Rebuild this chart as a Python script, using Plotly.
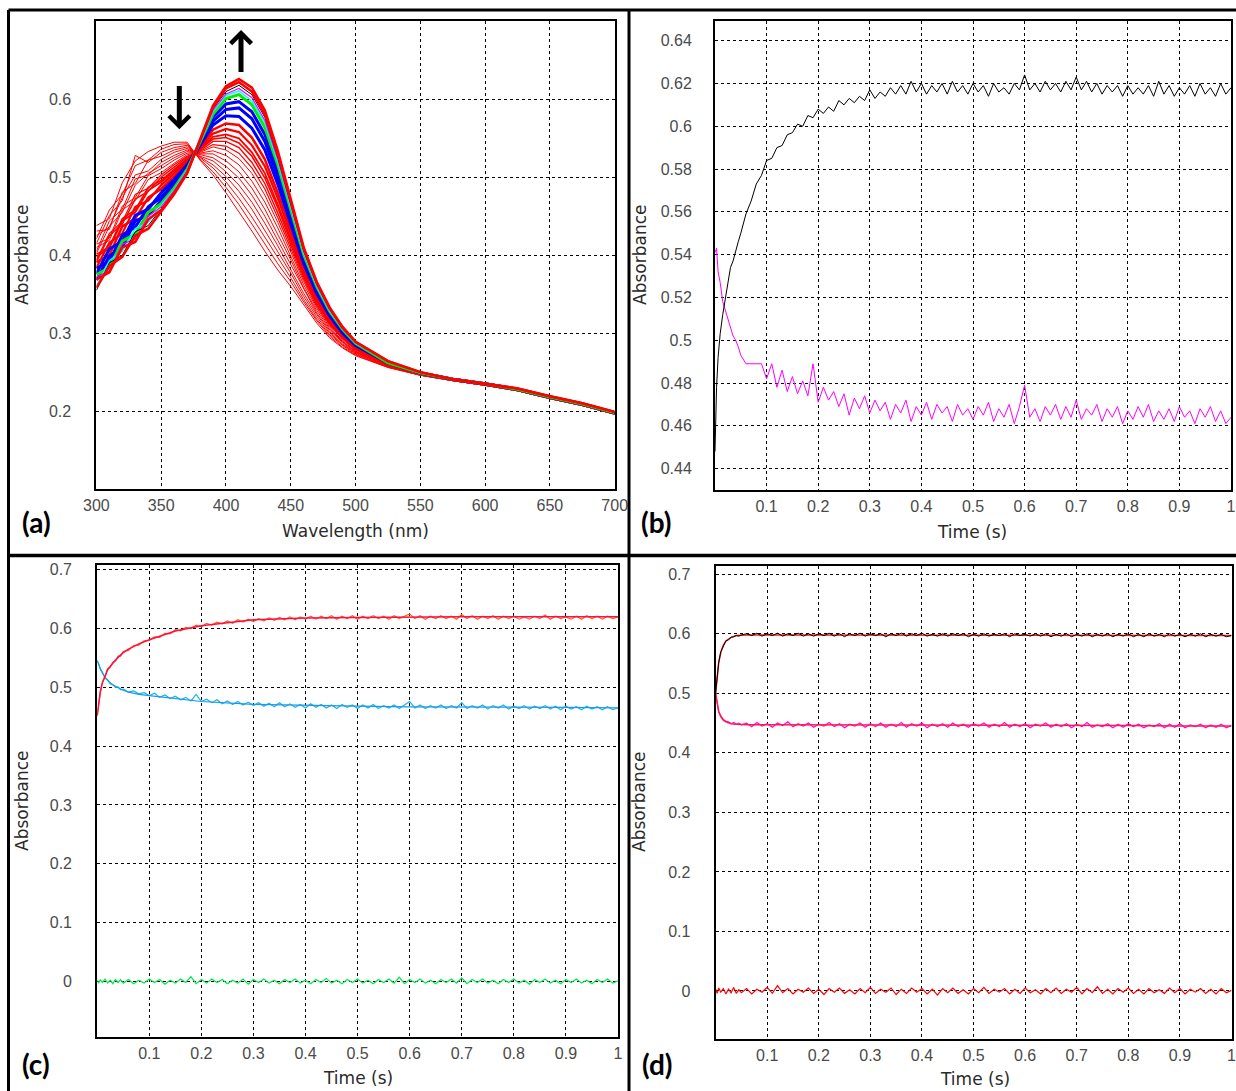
import plotly.graph_objects as go

W, H = 1236, 1091

# ---------------- Panel (a): spectra ----------------
wavelength = [300, 310, 320, 330, 340, 350, 360, 370, 380, 390, 400, 410, 420, 430, 440,
              450, 460, 470, 480, 490, 500, 525, 550, 575, 600, 625, 650, 675, 700]

spec_r00 = [0.438, 0.447, 0.493, 0.521, 0.533, 0.540, 0.545, 0.545, 0.522, 0.503, 0.480, 0.456, 0.431, 0.405, 0.381,
            0.360, 0.336, 0.313, 0.294, 0.281, 0.271, 0.256, 0.246, 0.239, 0.233, 0.226, 0.216, 0.207, 0.196]
spec_r05 = [0.421, 0.458, 0.478, 0.515, 0.522, 0.536, 0.542, 0.543, 0.523, 0.507, 0.487, 0.465, 0.440, 0.414, 0.389,
            0.366, 0.340, 0.316, 0.296, 0.282, 0.272, 0.256, 0.246, 0.239, 0.233, 0.226, 0.216, 0.207, 0.196]
spec_r10 = [0.415, 0.451, 0.470, 0.528, 0.519, 0.532, 0.538, 0.541, 0.525, 0.512, 0.494, 0.473, 0.449, 0.423, 0.396,
            0.371, 0.343, 0.318, 0.298, 0.284, 0.273, 0.257, 0.246, 0.239, 0.233, 0.226, 0.216, 0.207, 0.196]
spec_r15 = [0.431, 0.433, 0.481, 0.492, 0.522, 0.527, 0.535, 0.539, 0.526, 0.516, 0.501, 0.482, 0.459, 0.432, 0.404,
            0.377, 0.347, 0.321, 0.300, 0.285, 0.274, 0.257, 0.246, 0.239, 0.233, 0.226, 0.216, 0.207, 0.196]
spec_r20 = [0.425, 0.436, 0.474, 0.503, 0.508, 0.523, 0.532, 0.537, 0.527, 0.521, 0.507, 0.490, 0.468, 0.441, 0.412,
            0.382, 0.351, 0.324, 0.302, 0.286, 0.275, 0.258, 0.247, 0.239, 0.233, 0.226, 0.216, 0.207, 0.196]
spec_r25 = [0.405, 0.444, 0.459, 0.498, 0.503, 0.519, 0.528, 0.535, 0.529, 0.525, 0.514, 0.499, 0.477, 0.450, 0.419,
            0.388, 0.355, 0.326, 0.304, 0.288, 0.276, 0.258, 0.247, 0.239, 0.233, 0.226, 0.216, 0.207, 0.196]
spec_r30 = [0.402, 0.437, 0.455, 0.490, 0.505, 0.515, 0.525, 0.533, 0.530, 0.530, 0.521, 0.507, 0.486, 0.459, 0.427,
            0.394, 0.358, 0.329, 0.306, 0.289, 0.276, 0.258, 0.247, 0.240, 0.234, 0.227, 0.217, 0.208, 0.197]
spec_r35 = [0.414, 0.422, 0.463, 0.474, 0.502, 0.511, 0.522, 0.531, 0.531, 0.534, 0.528, 0.516, 0.495, 0.468, 0.435,
            0.399, 0.362, 0.332, 0.308, 0.290, 0.277, 0.259, 0.247, 0.240, 0.234, 0.227, 0.217, 0.208, 0.197]
spec_r40 = [0.410, 0.419, 0.458, 0.470, 0.497, 0.506, 0.518, 0.529, 0.532, 0.539, 0.535, 0.524, 0.505, 0.477, 0.442,
            0.405, 0.366, 0.334, 0.310, 0.292, 0.278, 0.259, 0.248, 0.240, 0.234, 0.227, 0.217, 0.208, 0.197]
spec_r44 = [0.394, 0.428, 0.443, 0.478, 0.486, 0.503, 0.516, 0.527, 0.533, 0.542, 0.540, 0.531, 0.512, 0.485, 0.448,
            0.409, 0.369, 0.336, 0.311, 0.293, 0.279, 0.259, 0.248, 0.240, 0.234, 0.227, 0.217, 0.208, 0.197]
spec_r48 = [0.391, 0.425, 0.440, 0.472, 0.482, 0.500, 0.513, 0.526, 0.534, 0.546, 0.546, 0.538, 0.519, 0.492, 0.454,
            0.414, 0.372, 0.338, 0.313, 0.294, 0.280, 0.260, 0.248, 0.240, 0.234, 0.227, 0.217, 0.208, 0.197]
spec_r52 = [0.401, 0.411, 0.447, 0.458, 0.487, 0.496, 0.510, 0.524, 0.536, 0.549, 0.551, 0.544, 0.527, 0.499, 0.461,
            0.418, 0.374, 0.341, 0.314, 0.295, 0.280, 0.260, 0.248, 0.240, 0.234, 0.227, 0.217, 0.208, 0.197]
spec_r55 = [0.398, 0.409, 0.444, 0.455, 0.483, 0.494, 0.508, 0.523, 0.536, 0.552, 0.555, 0.550, 0.532, 0.505, 0.465,
            0.422, 0.377, 0.342, 0.315, 0.296, 0.281, 0.260, 0.248, 0.240, 0.234, 0.227, 0.217, 0.208, 0.197]
spec_r60 = [0.384, 0.416, 0.428, 0.462, 0.470, 0.490, 0.505, 0.521, 0.538, 0.556, 0.562, 0.558, 0.541, 0.514, 0.473,
            0.427, 0.380, 0.345, 0.317, 0.297, 0.282, 0.261, 0.248, 0.240, 0.234, 0.227, 0.217, 0.208, 0.197]
spec_r65 = [0.391, 0.400, 0.437, 0.447, 0.474, 0.485, 0.501, 0.519, 0.539, 0.561, 0.569, 0.567, 0.551, 0.523, 0.480,
            0.433, 0.384, 0.347, 0.319, 0.299, 0.283, 0.261, 0.249, 0.240, 0.234, 0.227, 0.217, 0.208, 0.197]
spec_b1 = [0.376, 0.408, 0.418, 0.451, 0.459, 0.480, 0.497, 0.516, 0.541, 0.567, 0.579, 0.578, 0.563, 0.535, 0.491,
           0.441, 0.389, 0.351, 0.322, 0.300, 0.284, 0.262, 0.249, 0.241, 0.235, 0.228, 0.218, 0.209, 0.198]
spec_b2 = [0.383, 0.392, 0.426, 0.436, 0.462, 0.474, 0.493, 0.514, 0.542, 0.572, 0.587, 0.589, 0.575, 0.546, 0.500,
           0.447, 0.394, 0.354, 0.324, 0.302, 0.285, 0.262, 0.249, 0.241, 0.235, 0.228, 0.218, 0.209, 0.198]
spec_b3 = [0.368, 0.399, 0.410, 0.444, 0.451, 0.470, 0.489, 0.512, 0.544, 0.577, 0.594, 0.597, 0.584, 0.555, 0.508,
           0.453, 0.397, 0.357, 0.326, 0.303, 0.286, 0.262, 0.249, 0.241, 0.235, 0.228, 0.218, 0.209, 0.198]
spec_g1 = [0.375, 0.384, 0.418, 0.427, 0.455, 0.466, 0.486, 0.510, 0.545, 0.581, 0.601, 0.606, 0.593, 0.564, 0.516,
           0.459, 0.401, 0.360, 0.328, 0.305, 0.287, 0.262, 0.249, 0.241, 0.235, 0.228, 0.218, 0.209, 0.198]
spec_c1 = [0.360, 0.393, 0.405, 0.434, 0.442, 0.464, 0.484, 0.509, 0.546, 0.584, 0.605, 0.611, 0.598, 0.570, 0.520,
           0.462, 0.403, 0.361, 0.329, 0.306, 0.287, 0.264, 0.250, 0.241, 0.235, 0.229, 0.219, 0.210, 0.199]
spec_m1 = [0.372, 0.380, 0.414, 0.421, 0.450, 0.462, 0.483, 0.508, 0.546, 0.586, 0.607, 0.614, 0.602, 0.573, 0.523,
           0.464, 0.405, 0.362, 0.330, 0.306, 0.288, 0.264, 0.250, 0.241, 0.235, 0.229, 0.219, 0.210, 0.199]
spec_k1 = [0.355, 0.390, 0.400, 0.430, 0.438, 0.460, 0.481, 0.507, 0.547, 0.588, 0.610, 0.618, 0.606, 0.577, 0.526,
           0.466, 0.406, 0.363, 0.331, 0.307, 0.288, 0.264, 0.250, 0.241, 0.235, 0.229, 0.219, 0.210, 0.199]
spec_f1 = [0.369, 0.378, 0.410, 0.417, 0.446, 0.458, 0.480, 0.506, 0.547, 0.590, 0.614, 0.622, 0.610, 0.581, 0.530,
           0.469, 0.408, 0.365, 0.332, 0.307, 0.289, 0.264, 0.250, 0.241, 0.235, 0.229, 0.219, 0.210, 0.199]
spec_f2 = [0.358, 0.386, 0.398, 0.425, 0.434, 0.456, 0.478, 0.505, 0.548, 0.592, 0.617, 0.626, 0.615, 0.586, 0.534,
           0.472, 0.410, 0.366, 0.333, 0.308, 0.289, 0.264, 0.250, 0.241, 0.235, 0.229, 0.219, 0.210, 0.199]

wl_ticks = [300, 350, 400, 450, 500, 550, 600, 650, 700]
wl_tick_text = ["300", "350", "400", "450", "500", "550", "600", "650", "700"]
abs_ticks_a = [0.2, 0.3, 0.4, 0.5, 0.6]
abs_tick_text_a = ["0.2", "0.3", "0.4", "0.5", "0.6"]

# ---------------- Time traces ----------------
time_s = [0, 0.003, 0.006, 0.01, 0.015, 0.02, 0.025, 0.03, 0.035, 0.04, 0.045, 0.05,
          0.06, 0.07, 0.08, 0.09, 0.10, 0.11, 0.12, 0.13, 0.14, 0.15,
          0.16, 0.17, 0.18, 0.19, 0.20, 0.21, 0.22, 0.23, 0.24, 0.25,
          0.26, 0.27, 0.28, 0.29, 0.30, 0.31, 0.32, 0.33, 0.34, 0.35,
          0.36, 0.37, 0.38, 0.39, 0.40, 0.41, 0.42, 0.43, 0.44, 0.45,
          0.46, 0.47, 0.48, 0.49, 0.50, 0.51, 0.52, 0.53, 0.54, 0.55,
          0.56, 0.57, 0.58, 0.59, 0.60, 0.61, 0.62, 0.63, 0.64, 0.65,
          0.66, 0.67, 0.68, 0.69, 0.70, 0.71, 0.72, 0.73, 0.74, 0.75,
          0.76, 0.77, 0.78, 0.79, 0.80, 0.81, 0.82, 0.83, 0.84, 0.85,
          0.86, 0.87, 0.88, 0.89, 0.90, 0.91, 0.92, 0.93, 0.94, 0.95,
          0.96, 0.97, 0.98, 0.99, 1.00]

b_black = [0.448, 0.478, 0.492, 0.503, 0.512, 0.520, 0.527, 0.534, 0.537, 0.542, 0.546, 0.550,
           0.559, 0.565, 0.573, 0.577, 0.584, 0.585, 0.590, 0.591, 0.596, 0.597,
           0.601, 0.600, 0.605, 0.604, 0.608, 0.606, 0.609, 0.607, 0.612, 0.610,
           0.613, 0.611, 0.614, 0.612, 0.617, 0.613, 0.616, 0.614, 0.618, 0.615,
           0.619, 0.615, 0.621, 0.616, 0.620, 0.615, 0.619, 0.616, 0.620, 0.615,
           0.621, 0.616, 0.619, 0.615, 0.620, 0.616, 0.619, 0.614, 0.620, 0.616,
           0.618, 0.615, 0.620, 0.617, 0.624, 0.617, 0.620, 0.616, 0.621, 0.617,
           0.620, 0.616, 0.621, 0.617, 0.623, 0.617, 0.621, 0.616, 0.620, 0.615,
           0.619, 0.616, 0.619, 0.614, 0.619, 0.615, 0.618, 0.615, 0.619, 0.614,
           0.621, 0.615, 0.619, 0.614, 0.618, 0.615, 0.619, 0.614, 0.620, 0.615,
           0.618, 0.614, 0.620, 0.615, 0.618]
b_magenta = [0.541, 0.543, 0.532, 0.527, 0.518, 0.514, 0.509, 0.506, 0.502, 0.500, 0.497, 0.493,
             0.489, 0.489, 0.489, 0.489, 0.482, 0.489, 0.478, 0.486, 0.476, 0.483,
             0.475, 0.481, 0.474, 0.489, 0.471, 0.478, 0.472, 0.476, 0.469, 0.475,
             0.465, 0.473, 0.468, 0.474, 0.466, 0.472, 0.467, 0.471, 0.463, 0.470,
             0.466, 0.472, 0.462, 0.469, 0.465, 0.471, 0.463, 0.470, 0.466, 0.469,
             0.462, 0.470, 0.465, 0.468, 0.463, 0.469, 0.465, 0.471, 0.462, 0.468,
             0.464, 0.470, 0.461, 0.469, 0.479, 0.464, 0.468, 0.462, 0.469, 0.465,
             0.470, 0.463, 0.469, 0.464, 0.472, 0.463, 0.468, 0.465, 0.470, 0.462,
             0.468, 0.464, 0.469, 0.461, 0.467, 0.463, 0.469, 0.464, 0.470, 0.462,
             0.467, 0.463, 0.468, 0.462, 0.469, 0.464, 0.467, 0.461, 0.468, 0.464,
             0.469, 0.462, 0.467, 0.461, 0.464]

c_orange = [0.452, 0.477, 0.491, 0.509, 0.517, 0.532, 0.534, 0.543, 0.545, 0.553, 0.553, 0.561,
            0.563, 0.571, 0.572, 0.579, 0.580, 0.586, 0.585, 0.592, 0.591, 0.598,
            0.596, 0.602, 0.600, 0.606, 0.603, 0.609, 0.606, 0.611, 0.608, 0.613,
            0.609, 0.615, 0.611, 0.616, 0.612, 0.617, 0.613, 0.618, 0.614, 0.619,
            0.615, 0.620, 0.615, 0.620, 0.616, 0.621, 0.616, 0.621, 0.617, 0.622,
            0.616, 0.621, 0.617, 0.622, 0.616, 0.621, 0.617, 0.622, 0.617, 0.621,
            0.616, 0.622, 0.617, 0.621, 0.625, 0.617, 0.622, 0.616, 0.621, 0.617,
            0.622, 0.617, 0.621, 0.616, 0.624, 0.617, 0.622, 0.616, 0.621, 0.617,
            0.622, 0.616, 0.621, 0.617, 0.621, 0.616, 0.620, 0.616, 0.621, 0.617,
            0.623, 0.616, 0.621, 0.617, 0.620, 0.616, 0.621, 0.616, 0.622, 0.617,
            0.621, 0.616, 0.621, 0.617, 0.620]
c_blue = [0.546, 0.540, 0.530, 0.526, 0.516, 0.513, 0.506, 0.505, 0.500, 0.501, 0.496, 0.497,
          0.492, 0.494, 0.489, 0.491, 0.486, 0.490, 0.483, 0.487, 0.481, 0.485,
          0.479, 0.483, 0.477, 0.488, 0.476, 0.480, 0.474, 0.479, 0.472, 0.477,
          0.471, 0.476, 0.470, 0.475, 0.469, 0.474, 0.468, 0.473, 0.467, 0.474,
          0.467, 0.472, 0.466, 0.471, 0.465, 0.472, 0.466, 0.471, 0.465, 0.470,
          0.464, 0.471, 0.466, 0.470, 0.464, 0.470, 0.465, 0.471, 0.464, 0.469,
          0.465, 0.470, 0.464, 0.470, 0.476, 0.465, 0.470, 0.464, 0.469, 0.465,
          0.470, 0.464, 0.469, 0.465, 0.474, 0.464, 0.469, 0.465, 0.470, 0.463,
          0.469, 0.465, 0.470, 0.463, 0.468, 0.464, 0.469, 0.463, 0.468, 0.464,
          0.469, 0.463, 0.468, 0.462, 0.468, 0.463, 0.467, 0.462, 0.468, 0.463,
          0.467, 0.462, 0.467, 0.462, 0.465]
c_green = [0.002, -0.003, 0.003, -0.002, 0.004, -0.003, 0.002, -0.004, 0.003, -0.002, 0.003, -0.003,
           0.003, -0.004, 0.002, -0.003, 0.004, -0.002, 0.003, -0.005, 0.002, -0.003,
           0.004, -0.002, 0.008, -0.004, 0.003, -0.003, 0.004, -0.002, 0.003, -0.004,
           0.002, -0.003, 0.004, -0.005, 0.003, -0.002, 0.004, -0.003, 0.002, -0.004,
           0.003, -0.002, 0.004, -0.003, 0.002, -0.004, 0.003, -0.002, 0.005, -0.003,
           0.002, -0.004, 0.003, -0.002, 0.004, -0.003, 0.002, -0.004, 0.003, -0.002,
           0.004, -0.003, 0.007, -0.004, 0.003, -0.002, 0.004, -0.003, 0.002, -0.004,
           0.003, -0.002, 0.004, -0.003, 0.006, -0.004, 0.003, -0.002, 0.004, -0.003,
           0.002, -0.004, 0.003, -0.002, 0.004, -0.003, 0.002, -0.005, 0.003, -0.002,
           0.004, -0.003, 0.002, -0.004, 0.003, -0.002, 0.004, -0.003, 0.002, -0.004,
           0.003, -0.002, 0.004, -0.003, 0.001]

d_black = [0.500, 0.532, 0.552, 0.570, 0.580, 0.588, 0.590, 0.594, 0.595, 0.597, 0.596, 0.598,
           0.600, 0.597, 0.601, 0.596, 0.600, 0.597, 0.601, 0.596, 0.600, 0.597,
           0.601, 0.596, 0.600, 0.596, 0.600, 0.597, 0.601, 0.596, 0.600, 0.595,
           0.600, 0.597, 0.601, 0.596, 0.600, 0.597, 0.600, 0.595, 0.600, 0.597,
           0.601, 0.596, 0.600, 0.597, 0.601, 0.596, 0.599, 0.596, 0.600, 0.596,
           0.600, 0.597, 0.600, 0.595, 0.599, 0.596, 0.600, 0.596, 0.599, 0.597,
           0.600, 0.595, 0.600, 0.597, 0.599, 0.596, 0.600, 0.596, 0.600, 0.595,
           0.599, 0.596, 0.600, 0.595, 0.599, 0.596, 0.600, 0.595, 0.599, 0.596,
           0.600, 0.595, 0.599, 0.596, 0.600, 0.595, 0.599, 0.595, 0.600, 0.596,
           0.599, 0.595, 0.600, 0.596, 0.599, 0.595, 0.599, 0.596, 0.600, 0.595,
           0.599, 0.596, 0.599, 0.595, 0.597]
d_magenta = [0.500, 0.480, 0.468, 0.462, 0.456, 0.453, 0.452, 0.449, 0.451, 0.448, 0.450, 0.447,
             0.450, 0.444, 0.451, 0.445, 0.449, 0.443, 0.450, 0.446, 0.452, 0.444,
             0.449, 0.445, 0.450, 0.443, 0.448, 0.445, 0.451, 0.444, 0.449, 0.442,
             0.448, 0.445, 0.450, 0.443, 0.449, 0.444, 0.450, 0.443, 0.448, 0.444,
             0.451, 0.443, 0.449, 0.445, 0.450, 0.442, 0.448, 0.444, 0.449, 0.443,
             0.450, 0.444, 0.448, 0.443, 0.449, 0.445, 0.450, 0.443, 0.448, 0.444,
             0.451, 0.443, 0.448, 0.444, 0.449, 0.442, 0.448, 0.445, 0.450, 0.443,
             0.448, 0.444, 0.449, 0.442, 0.448, 0.444, 0.451, 0.443, 0.447, 0.444,
             0.449, 0.442, 0.448, 0.443, 0.449, 0.444, 0.448, 0.442, 0.447, 0.444,
             0.449, 0.442, 0.448, 0.443, 0.449, 0.442, 0.447, 0.444, 0.448, 0.442,
             0.447, 0.443, 0.448, 0.442, 0.446]
d_resid = [0.003, -0.004, 0.005, -0.002, 0.004, -0.005, 0.003, -0.003, 0.006, -0.004, 0.002, -0.003,
           0.004, -0.005, 0.003, -0.002, 0.006, -0.004, 0.009, -0.003, 0.004, -0.005,
           0.003, -0.002, 0.005, -0.004, 0.003, -0.006, 0.004, -0.002, 0.005, -0.004,
           0.002, -0.005, 0.004, -0.003, 0.006, -0.004, 0.003, -0.002, 0.005, -0.006,
           0.003, -0.004, 0.005, -0.002, 0.004, -0.005, 0.003, -0.007, 0.004, -0.003,
           0.005, -0.004, 0.002, -0.005, 0.004, -0.003, 0.006, -0.004, 0.003, -0.002,
           0.004, -0.005, 0.003, -0.004, 0.005, -0.003, 0.002, -0.005, 0.004, -0.003,
           0.005, -0.004, 0.003, -0.002, 0.006, -0.005, 0.004, -0.003, 0.007, -0.004,
           0.003, -0.005, 0.004, -0.002, 0.005, -0.004, 0.003, -0.005, 0.004, -0.003,
           0.002, -0.004, 0.005, -0.003, 0.004, -0.005, 0.003, -0.002, 0.004, -0.004,
           0.003, -0.005, 0.004, -0.003, 0.001]

fit_time = [0, 0.003, 0.006, 0.01, 0.015, 0.02, 0.03, 0.04, 0.05, 0.06, 0.08,
            0.1, 0.15, 0.2, 0.3, 0.4, 0.5, 0.6, 0.7, 0.8, 0.9, 1.0]
c_fit_red = [0.452, 0.475, 0.493, 0.508, 0.519, 0.530, 0.541, 0.551, 0.559, 0.565, 0.574,
             0.581, 0.596, 0.605, 0.615, 0.618, 0.619, 0.620, 0.620, 0.620, 0.620, 0.620]
c_fit_blue = [0.545, 0.538, 0.531, 0.524, 0.517, 0.512, 0.504, 0.499, 0.495, 0.492, 0.488,
              0.486, 0.481, 0.476, 0.471, 0.469, 0.468, 0.467, 0.467, 0.467, 0.466, 0.465]
d_fit_up = [0.500, 0.530, 0.551, 0.568, 0.581, 0.588, 0.594, 0.597, 0.598, 0.598, 0.598,
            0.598, 0.598, 0.598, 0.598, 0.598, 0.598, 0.598, 0.598, 0.598, 0.597, 0.597]
d_fit_down = [0.500, 0.482, 0.470, 0.461, 0.455, 0.452, 0.449, 0.448, 0.447, 0.447, 0.447,
              0.447, 0.447, 0.447, 0.447, 0.446, 0.446, 0.446, 0.446, 0.446, 0.445, 0.445]

time_ticks = [0.1, 0.2, 0.3, 0.4, 0.5, 0.6, 0.7, 0.8, 0.9, 1.0]
time_tick_text = ["0.1", "0.2", "0.3", "0.4", "0.5", "0.6", "0.7", "0.8", "0.9", "1"]
abs_ticks_b = [0.44, 0.46, 0.48, 0.50, 0.52, 0.54, 0.56, 0.58, 0.60, 0.62, 0.64]
abs_tick_text_b = ["0.44", "0.46", "0.48", "0.5", "0.52", "0.54", "0.56", "0.58", "0.6", "0.62", "0.64"]
abs_ticks_cd = [0, 0.1, 0.2, 0.3, 0.4, 0.5, 0.6, 0.7]
abs_tick_text_cd = ["0", "0.1", "0.2", "0.3", "0.4", "0.5", "0.6", "0.7"]

for arr in (b_black, b_magenta, c_orange, c_blue, c_green, d_black, d_magenta, d_resid):
    assert len(arr) == len(time_s), len(arr)

# ---------------- Figure ----------------
fig = go.Figure()

def px_x(p):
    return p / W

def px_y(p):
    return 1 - p / H

TICK_FONT = dict(family="Liberation Sans Narrow, Liberation Sans, Arial", size=16, color="#4a4a4a")
TITLE_FONT = dict(family="DejaVu Sans, Verdana, sans-serif", size=17, color="#2a2a2a")
LABEL_FONT = dict(family="Lato, Open Sans, sans-serif", size=28, color="#000000")

def axis_common(domain, rng, tickvals, ticktext, ticklen, anchor):
    return dict(domain=domain, range=rng, tickvals=tickvals, ticktext=ticktext, anchor=anchor,
                showline=True, mirror=True, linecolor="black", linewidth=2,
                showgrid=True, gridcolor="black", gridwidth=1, griddash="3px,3px",
                zeroline=False, ticks="outside", ticklen=ticklen, tickcolor="rgba(0,0,0,0)",
                tickfont=TICK_FONT, fixedrange=True, automargin=False, ticklabeloverflow="allow")

# panel (a)
spectra = [
    (spec_r00, "#ff0000", 1), (spec_r05, "#ff0000", 1), (spec_r10, "#ff0000", 1),
    (spec_r15, "#ff0000", 1), (spec_r20, "#ff0000", 1), (spec_r25, "#ff0000", 1),
    (spec_r30, "#ff0000", 1), (spec_r35, "#ff0000", 1), (spec_r40, "#ff0000", 1),
    (spec_r44, "#ff0000", 1.2), (spec_r48, "#ff0000", 1.4), (spec_r52, "#ff0000", 1.6),
    (spec_r55, "#ff0000", 1.8), (spec_r60, "#ff0000", 2.2), (spec_r65, "#ff0000", 2.5),
    (spec_b1, "#0000ff", 3), (spec_b2, "#0000ff", 3), (spec_b3, "#0000ff", 3),
    (spec_g1, "#00ee00", 3), (spec_c1, "#00ffff", 1.5), (spec_m1, "#ff00ff", 1.2),
    (spec_k1, "#000000", 1), (spec_f1, "#ff0000", 2.5), (spec_f2, "#ff0000", 2.5),
]
for vals, col, w in spectra:
    assert len(vals) == len(wavelength)
    fig.add_trace(go.Scatter(x=wavelength, y=vals, mode="lines", line=dict(color=col, width=w),
                             xaxis="x", yaxis="y", showlegend=False, hoverinfo="skip"))

# panel (b)
fig.add_trace(go.Scatter(x=time_s, y=b_magenta, mode="lines", line=dict(color="#ff00ff", width=1),
                         xaxis="x2", yaxis="y2", showlegend=False, hoverinfo="skip"))
fig.add_trace(go.Scatter(x=time_s, y=b_black, mode="lines", line=dict(color="#000000", width=1),
                         xaxis="x2", yaxis="y2", showlegend=False, hoverinfo="skip"))

# panel (c)
fig.add_trace(go.Scatter(x=time_s, y=c_green, mode="lines", line=dict(color="#00e64d", width=1.2),
                         xaxis="x3", yaxis="y3", showlegend=False, hoverinfo="skip"))
fig.add_trace(go.Scatter(x=time_s, y=c_blue, mode="lines", line=dict(color="#1ab2f0", width=1.2),
                         xaxis="x3", yaxis="y3", showlegend=False, hoverinfo="skip"))
fig.add_trace(go.Scatter(x=fit_time, y=c_fit_blue, mode="lines", line=dict(color="#1a9ae6", width=1.2),
                         xaxis="x3", yaxis="y3", showlegend=False, hoverinfo="skip"))
fig.add_trace(go.Scatter(x=time_s, y=c_orange, mode="lines", line=dict(color="#ff5a1f", width=1.2),
                         xaxis="x3", yaxis="y3", showlegend=False, hoverinfo="skip"))
fig.add_trace(go.Scatter(x=fit_time, y=c_fit_red, mode="lines", line=dict(color="#ff1040", width=1.5),
                         xaxis="x3", yaxis="y3", showlegend=False, hoverinfo="skip"))

# panel (d)
fig.add_trace(go.Scatter(x=time_s, y=d_resid, mode="lines", line=dict(color="#ff0000", width=1.2),
                         xaxis="x4", yaxis="y4", showlegend=False, hoverinfo="skip"))
fig.add_trace(go.Scatter(x=fit_time, y=d_fit_up, mode="lines", line=dict(color="#ff1a1a", width=1.5),
                         xaxis="x4", yaxis="y4", showlegend=False, hoverinfo="skip"))
fig.add_trace(go.Scatter(x=time_s, y=d_black, mode="lines", line=dict(color="#000000", width=1),
                         xaxis="x4", yaxis="y4", showlegend=False, hoverinfo="skip"))
fig.add_trace(go.Scatter(x=time_s, y=d_magenta, mode="lines", line=dict(color="#ff00ff", width=1.2),
                         xaxis="x4", yaxis="y4", showlegend=False, hoverinfo="skip"))
fig.add_trace(go.Scatter(x=fit_time, y=d_fit_down, mode="lines", line=dict(color="#ff1a4a", width=1.5),
                         xaxis="x4", yaxis="y4", showlegend=False, hoverinfo="skip"))

dom_a = ([px_x(96.4), px_x(614.7)], [px_y(489), px_y(21.4)])
dom_b = ([px_x(715), px_x(1231)], [px_y(490), px_y(21.4)])
dom_c = ([px_x(97.2), px_x(618)], [px_y(1037.2), px_y(564.5)])
dom_d = ([px_x(715.6), px_x(1231.5)], [px_y(1038.6), px_y(565.9)])

fig.update_layout(
    template="none",
    width=W, height=H, margin=dict(l=0, r=0, t=0, b=0, pad=0),
    paper_bgcolor="white", plot_bgcolor="white", showlegend=False,
    xaxis=axis_common(dom_a[0], [300, 700], wl_ticks, wl_tick_text, 1, "y"),
    yaxis=axis_common(dom_a[1], [0.1, 0.7], abs_ticks_a, abs_tick_text_a, 20, "x"),
    xaxis2=axis_common(dom_b[0], [0, 1], time_ticks, time_tick_text, 1, "y2"),
    yaxis2=axis_common(dom_b[1], [0.43, 0.649], abs_ticks_b, abs_tick_text_b, 18, "x2"),
    xaxis3=axis_common(dom_c[0], [0, 1], time_ticks, time_tick_text, 1, "y3"),
    yaxis3=axis_common(dom_c[1], [-0.095, 0.709], abs_ticks_cd, abs_tick_text_cd, 20, "x3"),
    xaxis4=axis_common(dom_d[0], [0, 1], time_ticks, time_tick_text, 1, "y4"),
    yaxis4=axis_common(dom_d[1], [-0.08, 0.714], abs_ticks_cd, abs_tick_text_cd, 20, "x4"),
)

annotations = []

def text_ann(txt, cx, cy, font, angle=0):
    annotations.append(dict(text=txt, x=px_x(cx), y=px_y(cy), xref="paper", yref="paper",
                            xanchor="center", yanchor="middle", showarrow=False,
                            font=font, textangle=angle))

# axis titles
text_ann("Absorbance", 22, 255, TITLE_FONT, -90)
text_ann("Wavelength (nm)", 355, 531, TITLE_FONT)
text_ann("Absorbance", 640, 255, TITLE_FONT, -90)
text_ann("Time (s)", 972, 532, TITLE_FONT)
text_ann("Absorbance", 22, 801, TITLE_FONT, -90)
text_ann("Time (s)", 358, 1078, TITLE_FONT)
text_ann("Absorbance", 639, 802, TITLE_FONT, -90)
text_ann("Time (s)", 975, 1079, TITLE_FONT)

# panel labels
text_ann("<b>(a)</b>", 36, 522, LABEL_FONT)
text_ann("<b>(b)</b>", 656, 522, LABEL_FONT)
text_ann("<b>(c)</b>", 36, 1064, LABEL_FONT)
text_ann("<b>(d)</b>", 657, 1064, LABEL_FONT)

# arrows in panel (a)
annotations.append(dict(x=364, y=0.5615, ax=364, ay=0.619, xref="x", yref="y", axref="x", ayref="y",
                        text="", showarrow=True, arrowhead=4, arrowsize=0.8, arrowwidth=5,
                        arrowcolor="black", standoff=0, startstandoff=0))
annotations.append(dict(x=411.6, y=0.689, ax=411.6, ay=0.633, xref="x", yref="y", axref="x", ayref="y",
                        text="", showarrow=True, arrowhead=4, arrowsize=0.8, arrowwidth=5,
                        arrowcolor="black", standoff=0, startstandoff=0))
fig.update_layout(annotations=annotations)

# panel frames
shapes = []
def frame_line(x0, y0, x1, y1, w=3):
    shapes.append(dict(type="line", xref="paper", yref="paper",
                       x0=px_x(x0), y0=px_y(y0), x1=px_x(x1), y1=px_y(y1),
                       line=dict(color="black", width=w)))

frame_line(8.5, 10, 1236, 10)
frame_line(8.5, 10, 8.5, 1091)
frame_line(629, 10, 629, 1091)
frame_line(8.5, 555.5, 1236, 555.5, 3.5)
fig.update_layout(shapes=shapes)

fig.write_html("out.html",
               config={"displayModeBar": False, "staticPlot": True},
               post_script="document.body.style.margin='0px';document.body.style.overflow='hidden';")
